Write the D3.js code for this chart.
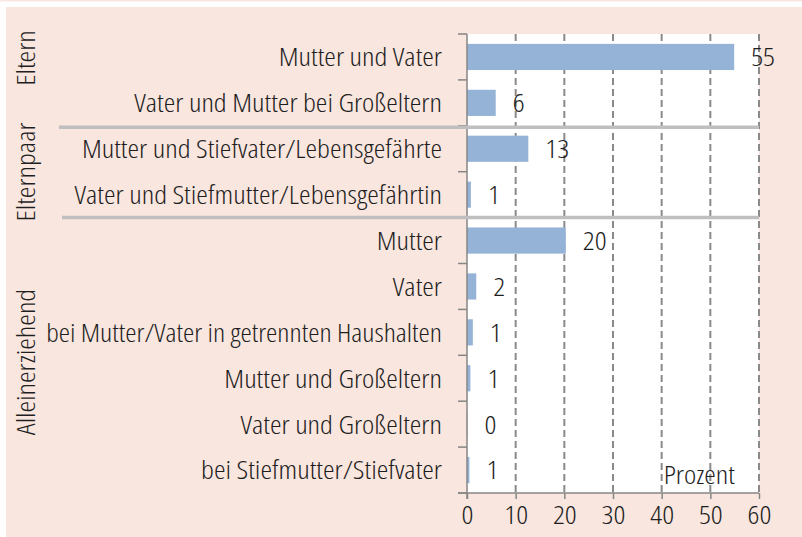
<!DOCTYPE html>
<html><head><meta charset="utf-8">
<script src="https://cdn.jsdelivr.net/npm/d3@7"></script>
<style>
html,body{margin:0;padding:0;background:#fff;}
svg{display:block;}
text{font-family:"Open Sans","Noto Sans",sans-serif;font-weight:300;font-stretch:condensed;fill:#1e1e1e;}
</style></head>
<body>
<svg id="c" width="802" height="537"></svg>
<script>
const categories = [
  "Mutter und Vater",
  "Vater und Mutter bei Großeltern",
  "Mutter und Stiefvater/Lebensgefährte",
  "Vater und Stiefmutter/Lebensgefährtin",
  "Mutter",
  "Vater",
  "bei Mutter/Vater in getrennten Haushalten",
  "Mutter und Großeltern",
  "Vater und Großeltern",
  "bei Stiefmutter/Stiefvater"
];
const values = [54.9, 5.9, 12.6, 0.8, 20.3, 1.9, 1.2, 0.7, 0.1, 0.5];
const valueLabels = ["55", "6", "13", "1", "20", "2", "1", "1", "0", "1"];
const groupNames = ["Eltern", "Elternpaar", "Alleinerziehend"];
const groupStarts = [0, 2, 4];
const groupEnds = [2, 4, 10];
const xTicks = [0, 10, 20, 30, 40, 50, 60];
const unitLabel = "Prozent";

const svg = d3.select("#c");
const FS = 26;
const LABEL_RIGHT = 442, LABEL_MAXW = 396;

// calibrate horizontal condensation so that glyph widths match the reference face
const probe = svg.append("text").attr("font-size",FS).text("Vater und Mutter bei Großeltern");
const probeW = probe.node().getComputedTextLength();
probe.remove();
const K = 308 / probeW;
const place = (sel, fx, fy, rot) => sel.attr("transform",(d,i)=>`translate(${fx(d,i)},${fy(d,i)})${rot?` rotate(${rot})`:""} scale(${K},1)`);

svg.append("rect").attr("x",0).attr("y",0).attr("width",802).attr("height",1.5).attr("fill","#f9e6df");
svg.append("rect").attr("x",6).attr("y",7).attr("width",796).attr("height",530).attr("fill","#f9e6df");

const x = d3.scaleLinear().domain([0,60]).range([467,759]);
const y = d3.scaleBand().domain(categories).range([34,493]).paddingInner(0.43).paddingOuter(0.215);
const step = y.step();
const y0 = 34;

// plot area
svg.append("rect").attr("x",x(0)).attr("y",y0).attr("width",x(60)-x(0)).attr("height",493-y0).attr("fill","#fff");

// grid
svg.append("g").selectAll("line").data(xTicks.filter(d=>d>0)).join("line")
  .attr("x1",d=>x(d)).attr("x2",d=>x(d)).attr("y1",y0).attr("y2",493)
  .attr("stroke","#8a8a8a").attr("stroke-width",2).attr("stroke-dasharray","7,4");

// bars
svg.append("g").selectAll("rect").data(categories).join("rect")
  .attr("x",x(0)).attr("y",d=>y(d))
  .attr("width",(d,i)=>Math.max(0,x(values[i])-x(0)))
  .attr("height",y.bandwidth())
  .attr("fill","#95b3d7");

// value labels
place(svg.append("g").selectAll("text").data(categories).join("text")
  .attr("dy","0.36em").attr("font-size",FS).text((d,i)=>valueLabels[i]),
  (d,i)=>x(values[i])+17, d=>y(d)+y.bandwidth()/2);

// category labels (compressed further only if wider than the label column)
svg.append("g").selectAll("text").data(categories).join("text")
  .attr("dy","0.36em").attr("text-anchor","end").attr("font-size",FS).text(d=>d)
  .each(function(d){
    const w = this.getComputedTextLength();
    const k = Math.min(K, LABEL_MAXW / w);
    d3.select(this).attr("transform",`translate(${LABEL_RIGHT},${y(d)+y.bandwidth()/2}) scale(${k},1)`);
  });

// y axis line and ticks
const axisColor = "#868686";
svg.append("line").attr("x1",x(0)).attr("x2",x(0)).attr("y1",y0).attr("y2",499).attr("stroke",axisColor).attr("stroke-width",1.5);
svg.append("g").selectAll("line").data(d3.range(categories.length+1)).join("line")
  .attr("x1",458).attr("x2",x(0)).attr("y1",i=>y0+i*step).attr("y2",i=>y0+i*step)
  .attr("stroke",axisColor).attr("stroke-width",1.5);

// x axis
const xAxis = d3.axisBottom(x).tickValues(xTicks).tickSize(6).tickPadding(7);
const gx = svg.append("g").attr("transform","translate(0,493)").call(xAxis);
gx.select(".domain").remove();
gx.append("line").attr("x1",458).attr("x2",x(60)).attr("y1",0).attr("y2",0).attr("stroke",axisColor).attr("stroke-width",1.5);
gx.selectAll(".tick line").attr("stroke",axisColor).attr("stroke-width",1.5);
gx.selectAll(".tick text").attr("font-size",FS).attr("fill","#1e1e1e")
  .attr("font-family",null).attr("transform",`scale(${K},1)`);
gx.attr("font-family",null);

// unit label
place(svg.append("text").datum(unitLabel).attr("font-size",FS).text(d=>d), ()=>x(40)+2, ()=>484);

// group separators
const sepX1 = [59, 62];
groupEnds.slice(0,2).forEach((e,i)=>{
  const yy = y0+e*step+(i===0?1.5:0);
  svg.append("line").attr("x1",sepX1[i]).attr("x2",x(60)).attr("y1",yy).attr("y2",yy)
    .attr("stroke","#bfbfbf").attr("stroke-width",3.5);
});

// group labels
const groupCenters = [58, 172, 362];
place(svg.append("g").selectAll("text").data(groupNames).join("text")
  .attr("text-anchor","middle").attr("font-size",FS).text(d=>d),
  ()=>35, (d,i)=>groupCenters[i], -90);
</script>
</body></html>
